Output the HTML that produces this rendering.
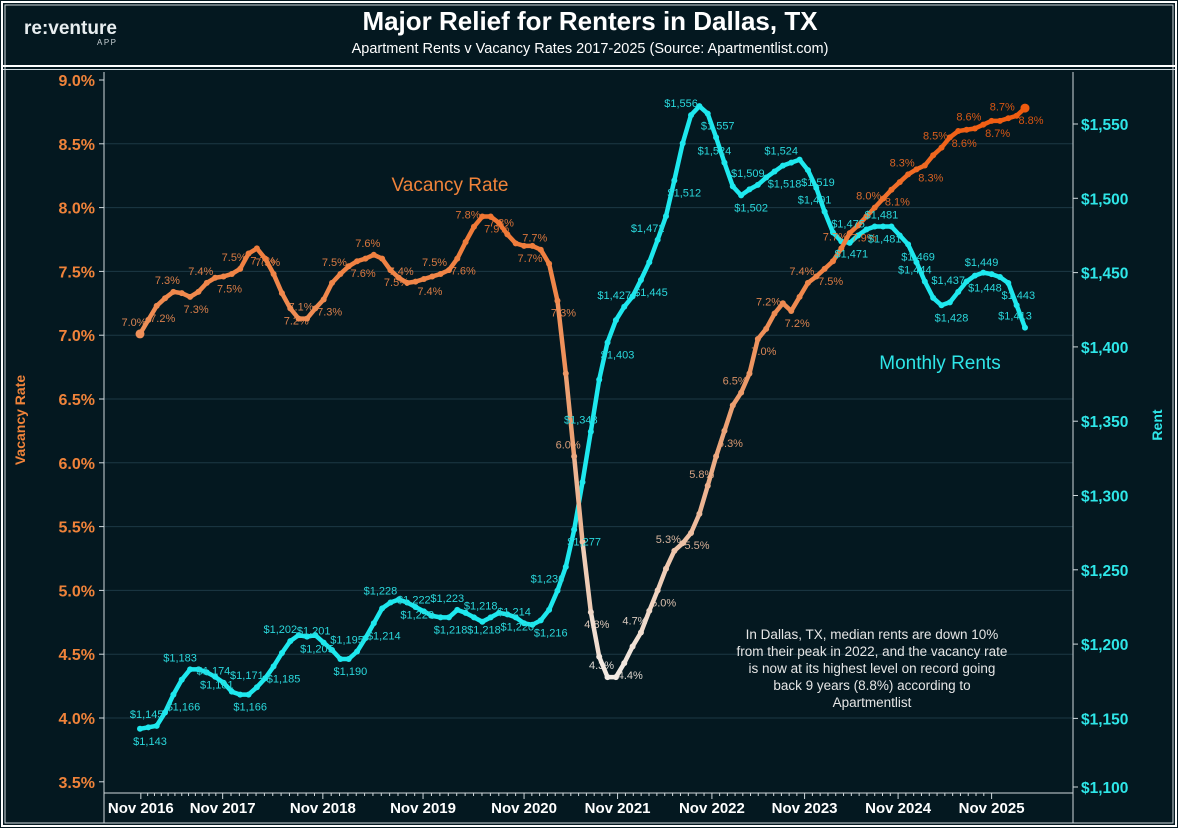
<!DOCTYPE html>
<html><head><meta charset="utf-8">
<style>
html,body{margin:0;padding:0;background:#041820;}
svg{display:block;font-family:"Liberation Sans",Arial,sans-serif;}
</style></head>
<body>
<svg id="chart" width="1178" height="828" viewBox="0 0 1178 828">
  <rect x="0" y="0" width="1178" height="828" fill="#041820"/>
  <rect x="2" y="2" width="1174" height="824" fill="none" stroke="#ffffff" stroke-width="2"/>
  <rect x="5" y="5" width="1168" height="818" fill="none" stroke="#cfd8dc" stroke-width="1"/>
  <line x1="3" y1="66" x2="1175" y2="66" stroke="#ffffff" stroke-width="2"/>
  <line x1="3" y1="69.5" x2="1175" y2="69.5" stroke="#cfd8dc" stroke-width="1"/>
  <g>
    <text x="24" y="34" fill="#e8eef0" font-size="19" font-weight="bold">re:venture</text>
    <text x="97" y="45" fill="#c8d0d4" font-size="8" letter-spacing="1.5">APP</text>
  </g>
  <text x="590" y="30" text-anchor="middle" fill="#ffffff" font-size="26" font-weight="bold">Major Relief for Renters in Dallas, TX</text>
  <text x="590" y="53" text-anchor="middle" fill="#ffffff" font-size="14.5">Apartment Rents v Vacancy Rates 2017-2025 (Source: Apartmentlist.com)</text>
  <g id="grid"></g>
  <g id="axes"></g>
  <g id="series"></g>
  <g id="labels"></g>
  <text x="450" y="191" text-anchor="middle" fill="#f0833a" font-size="19">Vacancy Rate</text>
  <text x="940" y="369" text-anchor="middle" fill="#2ee6e8" font-size="19">Monthly Rents</text>
  <g fill="#e6e6e6" font-size="13.5" text-anchor="middle">
    <text x="872" y="639">In Dallas, TX, median rents are down 10%</text>
    <text x="872" y="656">from their peak in 2022, and the vacancy rate</text>
    <text x="872" y="673">is now at its highest level on record going</text>
    <text x="872" y="690">back 9 years (8.8%) according to</text>
    <text x="872" y="707">Apartmentlist</text>
  </g>
  <text transform="translate(25,420) rotate(-90)" text-anchor="middle" fill="#f0833a" font-size="14" font-weight="bold">Vacancy Rate</text>
  <text transform="translate(1162,425) rotate(-90)" text-anchor="middle" fill="#2ee6e8" font-size="14" font-weight="bold">Rent</text>
</svg>
<script>
const vacancy = [7.01,7.12,7.23,7.29,7.34,7.33,7.30,7.34,7.41,7.45,
7.46,7.48,7.52,7.64,7.68,7.60,7.48,7.33,7.21,7.13,
7.13,7.21,7.28,7.41,7.48,7.54,7.58,7.60,7.63,7.60,
7.51,7.45,7.41,7.42,7.44,7.46,7.48,7.51,7.60,7.73,
7.85,7.93,7.93,7.88,7.79,7.72,7.70,7.70,7.67,7.56,
7.27,6.70,6.05,5.38,4.83,4.48,4.32,4.32,4.43,
4.56,4.67,4.84,5.00,5.17,5.31,5.37,5.45,5.60,5.82,
6.05,6.25,6.45,6.55,6.70,6.97,7.05,7.17,7.25,7.19,
7.30,7.41,7.46,7.52,7.58,7.68,7.80,7.86,7.93,8.00,8.07,8.14,8.20,8.26,8.30,8.33,8.41,8.47,8.55,8.60,8.61,8.62,8.65,8.68,8.68,8.70,8.72,8.78];
const rent = [1143,1144,1145,1154,1166,1176,1183,1183,1181,1178,
1174,1168,1166,1166,1171,1177,1185,1194,1202,1206,
1205,1206,1201,1196,1190,1190,1195,1204,1214,1224,
1228,1230,1228,1225,1222,1219,1218,1218,1223,1221,
1218,1215,1218,1221,1220,1218,1214,1213,1216,1223,
1236,1252,1277,1309,1343,1378,1403,1418,1427,1434,
1445,1457,1472,1488,1512,1537,1556,1562,1557,1541,
1524,1508,1502,1506,1509,1514,1518,1522,1524,1526,
1519,1507,1491,1477,1471,1470,1475,1479,1481,1481,
1481,1475,1469,1457,1444,1433,1428,1430,1437,1444,
1448,1450,1449,1447,1443,1428,1413];
const xTickLabels = ["Nov 2016","Nov 2017","Nov 2018","Nov 2019","Nov 2020","Nov 2021","Nov 2022","Nov 2023","Nov 2024","Nov 2025"];
const xTickIndex = [0.1,9.9,21.9,33.9,46,57.2,68.5,79.6,90.8,102];
const vTicks = [3.5,4.0,4.5,5.0,5.5,6.0,6.5,7.0,7.5,8.0,8.5,9.0];
const rTicks = [1100,1150,1200,1250,1300,1350,1400,1450,1500,1550];

const NS="http://www.w3.org/2000/svg";
const X0=140, X1=1025, LEFT=104, RIGHT=1073, TOP=72, BOTTOM=793;
const n=vacancy.length;
const xs=i=>X0+(X1-X0)*i/(n-1);
const yV=v=>80+(9-v)*127.6;
const yR=r=>124+(1550-r)*1.486;
function el(tag,attrs,parent){const e=document.createElementNS(NS,tag);for(const k in attrs)e.setAttribute(k,attrs[k]);parent.appendChild(e);return e;}
const grid=document.getElementById('grid'),axes=document.getElementById('axes'),series=document.getElementById('series'),labels=document.getElementById('labels');

vTicks.forEach(v=>{
  const y=yV(v);
  if(v<9.0&&v>3.5){const g=el('line',{x1:LEFT,x2:RIGHT,y1:y,y2:y,stroke:'#1c3944','stroke-width':1},grid);
  
  }
  el('line',{x1:LEFT-5,x2:LEFT,y1:y,y2:y,stroke:'#cfd8dc'},axes);
  const t=el('text',{x:LEFT-9,y:y+6,'text-anchor':'end',fill:'#f0833a','font-size':16,'font-weight':'bold'},axes);
  t.textContent=v.toFixed(1)+'%';
  
  
});
rTicks.forEach(r=>{
  const y=Math.min(yR(r),787);
  el('line',{x1:RIGHT,x2:RIGHT+5,y1:y,y2:y,stroke:'#cfd8dc'},axes);
  const t=el('text',{x:RIGHT+8,y:y+6,fill:'#2ee6e8','font-size':15.5,'font-weight':'bold'},axes);
  t.textContent='$'+r.toLocaleString('en-US');
  
  
});
el('line',{x1:LEFT,x2:LEFT,y1:TOP,y2:BOTTOM+30,stroke:'#cfd8dc','stroke-width':1},axes);
el('line',{x1:RIGHT,x2:RIGHT,y1:TOP,y2:BOTTOM+30,stroke:'#cfd8dc','stroke-width':1},axes);
el('line',{x1:LEFT,x2:RIGHT,y1:BOTTOM,y2:BOTTOM,stroke:'#cfd8dc','stroke-width':1},axes);
xTickIndex.forEach((ix,k)=>{
  const x=xs(ix);
  el('line',{x1:x,x2:x,y1:BOTTOM,y2:BOTTOM+6,stroke:'#cfd8dc'},axes);
  if(k<xTickIndex.length-1){const step=(xs(xTickIndex[k+1])-x)/12;for(let m=1;m<12;m++)el('line',{x1:x+m*step,x2:x+m*step,y1:BOTTOM,y2:BOTTOM+3,stroke:'#cfd8dc'},axes);}
  const t=el('text',{x:x,y:BOTTOM+20,'text-anchor':'middle',fill:'#ffffff','font-size':15,'font-weight':'bold'},axes);
  t.textContent=xTickLabels[k];
  
  
});

function vColor(v){
  const stops=[[4.3,[242,236,230]],[6.0,[236,170,130]],[7.5,[240,132,70]],[8.8,[240,90,14]]];
  if(v<=stops[0][0])return 'rgb('+stops[0][1]+')';
  for(let i=1;i<stops.length;i++){if(v<=stops[i][0]){const a=stops[i-1],b=stops[i],t=(v-a[0])/(b[0]-a[0]);return 'rgb('+a[1].map((c,j)=>Math.round(c+(b[1][j]-c)*t)).join(',')+')';}}
  return 'rgb('+stops[3][1]+')';
}
let d='';rent.forEach((r,i)=>{d+=(i?'L':'M')+xs(i).toFixed(1)+','+yR(r).toFixed(1);});
const rl=el('path',{d:d,fill:'none',stroke:'#1ee8ee','stroke-width':4.5,'stroke-linejoin':'round','stroke-linecap':'round'},series);


rent.forEach((r,i)=>{const c=el('circle',{cx:xs(i),cy:yR(r),r:3,fill:'#1ee8ee'},series);

});
for(let i=1;i<n;i++){
  const s=el('line',{x1:xs(i-1),y1:yV(vacancy[i-1]),x2:xs(i),y2:yV(vacancy[i]),stroke:vColor((vacancy[i-1]+vacancy[i])/2),'stroke-width':4.5,'stroke-linecap':'round'},series);
  
  
}
vacancy.forEach((v,i)=>{const c=el('circle',{cx:xs(i),cy:yV(v),r:i==0||i==n-1?4.5:3,fill:vColor(v)},series);

});
vacancy.forEach((v,i)=>{
  if(i%2&&i!==n-1)return;
  const up=(i/2)%2===0;
  const t=el('text',{x:xs(i)+(up?-6:6),y:yV(v)+(up?-8:16),'text-anchor':'middle',fill:vColor(v),'font-size':11,opacity:0.9},labels);
  t.textContent=v.toFixed(1)+'%';
  
  
});
rent.forEach((r,i)=>{
  if(i%2&&i!==n-1)return;
  const up=(i/2)%2===1;
  const t=el('text',{x:xs(i)+(up?-10:10),y:yR(r)+(up?-8:16),'text-anchor':'middle',fill:'#2ad8dc','font-size':11},labels);
  t.textContent='$'+r.toLocaleString('en-US');
  
  
});
</script>
</body></html>
